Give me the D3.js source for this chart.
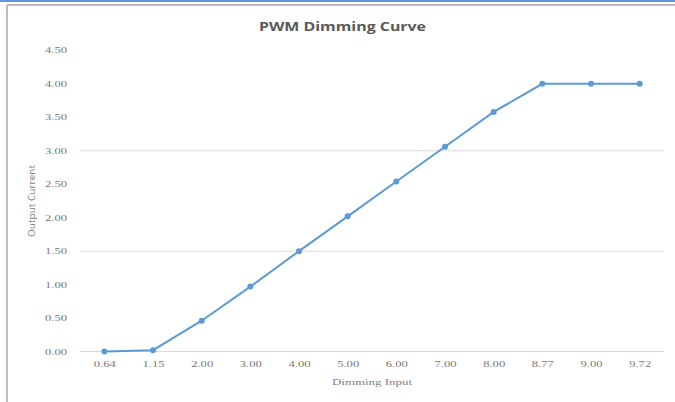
<!DOCTYPE html>
<html>
<head>
<meta charset="utf-8">
<script src="https://cdn.jsdelivr.net/npm/d3@7"></script>
<style>
  body { margin: 0; background: #fff; }
  svg { display: block; }
</style>
</head>
<body>
<div id="chart"></div>
<script>
// dimming input labels (category axis) and output current
var inputs = ["0.64", "1.15", "2.00", "3.00", "4.00", "5.00", "6.00", "7.00", "8.00", "8.77", "9.00", "9.72"];
var current = [0, 0.02, 0.46, 0.97, 1.50, 2.02, 2.54, 3.06, 3.58, 4.00, 4.00, 4.00];
var yTicks = [0, 0.5, 1, 1.5, 2, 2.5, 3, 3.5, 4, 4.5];
var gridTicks = [0, 1.5, 3];

var width = 675, height = 402;
var margin = {top: 50.4, right: 11, bottom: 50.5, left: 80};

var svg = d3.select("#chart").append("svg")
    .attr("width", width)
    .attr("height", height);

// frame
svg.append("line").attr("x1", 0).attr("x2", width).attr("y1", 1).attr("y2", 1)
    .attr("stroke", "#5b9bd5").attr("stroke-width", 2);
svg.append("line").attr("x1", 7).attr("x2", width).attr("y1", 5).attr("y2", 5)
    .attr("stroke", "#a6a6a6").attr("stroke-width", 1.5);
svg.append("line").attr("x1", 7).attr("x2", 7).attr("y1", 5).attr("y2", height)
    .attr("stroke", "#a6a6a6").attr("stroke-width", 1.5);

var x = d3.scalePoint()
    .domain(inputs)
    .range([margin.left, width - margin.right])
    .padding(0.5);

var y = d3.scaleLinear()
    .domain([0, 4.5])
    .range([height - margin.bottom, margin.top]);

// gridlines
svg.append("g").selectAll("line")
    .data(gridTicks)
    .enter().append("line")
    .attr("x1", margin.left)
    .attr("x2", width - margin.right)
    .attr("y1", function(d) { return y(d); })
    .attr("y2", function(d) { return y(d); })
    .attr("stroke", "#d9d9d9")
    .attr("stroke-width", 1);

// y axis labels
var yAxis = svg.append("g")
    .attr("transform", "translate(" + (margin.left - 10) + ",0)")
    .call(d3.axisLeft(y).tickValues(yTicks).tickSize(0).tickFormat(d3.format(".2f")));
yAxis.select(".domain").remove();
yAxis.selectAll("text")
    .attr("font-family", "Liberation Serif")
    .attr("font-size", "8px")
    .attr("fill", "#777")
    .attr("textLength", 22)
    .attr("lengthAdjust", "spacingAndGlyphs");

// x axis labels
var xAxis = svg.append("g")
    .attr("transform", "translate(0," + (height - margin.bottom) + ")")
    .call(d3.axisBottom(x).tickSize(0).tickPadding(10));
xAxis.select(".domain").remove();
xAxis.selectAll("text")
    .attr("font-family", "Liberation Serif")
    .attr("font-size", "8px")
    .attr("fill", "#777")
    .attr("textLength", 22)
    .attr("lengthAdjust", "spacingAndGlyphs");

var line = d3.line()
    .x(function(d, i) { return x(inputs[i]); })
    .y(function(d) { return y(d); });

svg.append("path")
    .datum(current)
    .attr("fill", "none")
    .attr("stroke", "#5b9bd5")
    .attr("stroke-width", 2)
    .attr("d", line);

svg.selectAll(".pt")
    .data(current)
    .enter().append("circle")
    .attr("class", "pt")
    .attr("cx", function(d, i) { return x(inputs[i]); })
    .attr("cy", function(d) { return y(d); })
    .attr("r", 3)
    .attr("fill", "#5b9bd5");

// titles
svg.append("text")
    .attr("x", 342.5)
    .attr("y", 31)
    .attr("text-anchor", "middle")
    .attr("font-family", "Open Sans")
    .attr("font-weight", "bold")
    .attr("font-size", "12px")
    .attr("fill", "#595959")
    .attr("textLength", 167)
    .attr("lengthAdjust", "spacingAndGlyphs")
    .text("PWM Dimming Curve");

svg.append("text")
    .attr("x", 372)
    .attr("y", 385)
    .attr("text-anchor", "middle")
    .attr("font-family", "Liberation Serif")
    .attr("font-size", "9px")
    .attr("fill", "#7f7f7f")
    .attr("textLength", 80)
    .attr("lengthAdjust", "spacingAndGlyphs")
    .text("Dimming Input");

svg.append("text")
    .attr("transform", "translate(35,201)rotate(-90)")
    .attr("text-anchor", "middle")
    .attr("font-family", "Open Sans")
    .attr("font-size", "9px")
    .attr("fill", "#7f7f7f")
    .attr("textLength", 72)
    .attr("lengthAdjust", "spacingAndGlyphs")
    .text("Output Current");
</script>
</body>
</html>
